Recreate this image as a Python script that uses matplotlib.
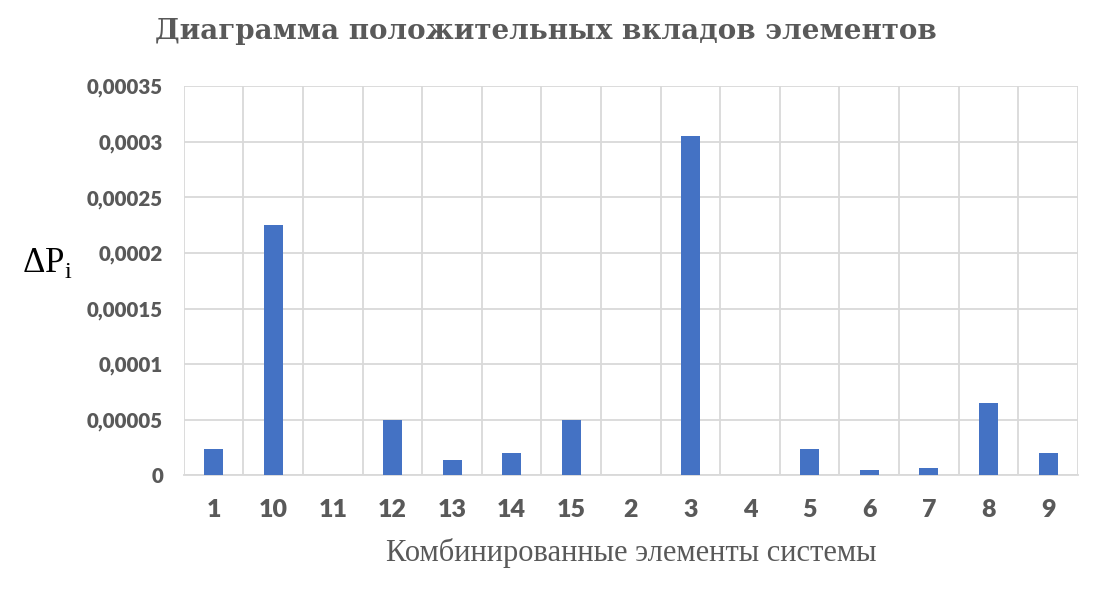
import numpy as np
import matplotlib
matplotlib.use("Agg")
import matplotlib.pyplot as plt
from matplotlib.ticker import FuncFormatter, MultipleLocator

# data
categories = ["1", "10", "11", "12", "13", "14", "15", "2", "3", "4", "5", "6", "7", "8", "9"]
delta_p = [0.000024, 0.000225, 0.0, 0.00005, 0.000014, 0.00002, 0.00005, 0.0,
           0.000305, 0.0, 0.0000235, 0.0000045, 0.0000065, 0.000065, 0.00002]

title = "Диаграмма положительных вкладов элементов"
xlabel = "Комбинированные элементы системы"

gray = "#595959"
grid_col = "#d9d9d9"
bar_col = "#4472C4"

fig = plt.figure(figsize=(11.01, 5.98), dpi=100)
ax = fig.add_axes([0.167, 0.205, 0.812, 0.651])

x = np.arange(len(categories))
ax.bar(x, delta_p, width=0.32, color=bar_col, zorder=3)

ax.set_xlim(-0.5, len(categories) - 0.5)
ax.set_ylim(0, 0.00035)
ax.yaxis.set_major_locator(MultipleLocator(0.00005))


def fmt(v, pos):
    s = f"{v:.5f}".rstrip("0").rstrip(".")
    return s.replace(".", ",")


ax.yaxis.set_major_formatter(FuncFormatter(fmt))
ax.set_xticks(x)
ax.set_xticklabels(categories)
ax.set_xticks(np.arange(-0.5, len(categories), 1.0), minor=True)

ax.grid(axis="y", which="major", color=grid_col, linewidth=1.3, zorder=0)
ax.grid(axis="x", which="minor", color=grid_col, linewidth=1.3, zorder=0)
for s in ["top", "right", "left"]:
    ax.spines[s].set_visible(False)
ax.spines["bottom"].set_color(grid_col)
ax.spines["bottom"].set_linewidth(1.3)

ax.tick_params(axis="both", which="both", length=0)
ax.tick_params(axis="y", pad=15)
ax.tick_params(axis="x", pad=17)
for lab in ax.get_yticklabels() + ax.get_xticklabels():
    lab.set_fontfamily("Lato")
    lab.set_fontweight("heavy")
    lab.set_color(gray)
for lab in ax.get_yticklabels():
    lab.set_fontsize(14.8)
for lab in ax.get_xticklabels():
    lab.set_fontsize(18)

fig.text(0.496, 0.948, title, ha="center", va="center", fontsize=20,
         fontweight="bold", family="DejaVu Serif", color=gray)
fig.text(0.573, 0.075, xlabel, ha="center", va="center", fontsize=22,
         family="Liberation Serif", color=gray)

plt.rcParams["mathtext.fontset"] = "custom"
plt.rcParams["mathtext.rm"] = "Liberation Serif"
fig.text(0.043, 0.56, r"$\Delta\mathrm{P}_\mathrm{i}$", ha="center", va="center",
         fontsize=25, color="black")

fig.savefig("out.png", dpi=100)
